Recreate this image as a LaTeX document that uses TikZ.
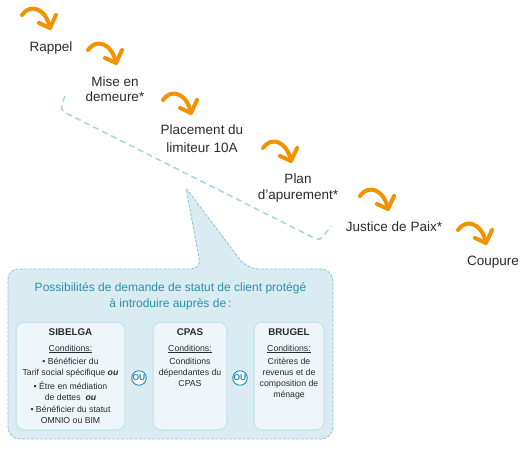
\documentclass[tikz,border=0pt]{standalone}
\usepackage{fontspec}
\setmainfont{Liberation Sans}
\definecolor{orng}{HTML}{F39200}
\definecolor{txt}{HTML}{2B2B2B}
\definecolor{teal1}{HTML}{2A93AA}
\definecolor{calfill}{HTML}{DAECF2}
\definecolor{calline}{HTML}{86C7D7}
\definecolor{bracec}{HTML}{A8D5E2}
\definecolor{boxfill}{HTML}{EEF6F9}
\definecolor{boxline}{HTML}{CCE4EC}
\definecolor{oucol}{HTML}{1F8BB8}
\begin{document}
\begin{tikzpicture}[x=1pt,y=-1pt,
  steplabel/.style={text=txt,font=\fontsize{13.5}{16}\selectfont,inner sep=0,anchor=base},
  titletxt/.style={text=teal1,font=\fontsize{12}{14}\selectfont,inner sep=0,anchor=base},
  boxhead/.style={text=txt,font=\fontsize{9.8}{12}\selectfont\bfseries,inner sep=0,anchor=base},
  boxtxt/.style={text=txt,font=\fontsize{8.7}{11}\selectfont,inner sep=0,anchor=base},
  ibox/.style={draw=boxline,fill=boxfill,line width=1.5,rounded corners=8,inner sep=0},
  oucirc/.style={circle,draw=oucol,fill=white,line width=0.9,minimum size=14.5,inner sep=0,
    text=oucol,font=\fontsize{8.5}{9}\selectfont\bfseries},
  orgline/.style={draw=orng,line width=4,line cap=round,line join=round},
  orgarrow/.pic={
    \draw[orgline] (0,0) .. controls (8,-12) and (24,-7) .. (28,13);
    \draw[orgline] (17,8) -- (28,13) -- (34,0);
  }
]
\useasboundingbox (0,0) rectangle (526,449);

% orange arrows
\pic at (22,15) {orgarrow};
\pic at (88,50) {orgarrow};
\pic at (163,100) {orgarrow};
\pic at (263,148) {orgarrow};
\pic at (360,196) {orgarrow};
\pic at (458,230) {orgarrow};

% step labels
\node[steplabel] (rappel) at (51,52) {Rappel};
\node[steplabel] (mise1) at (115,87) {Mise en};
\node[steplabel] (mise2) at (115,102) {demeure*};
\node[steplabel] (plac1) at (202,134.5) {Placement du};
\node[steplabel] (plac2) at (202,152) {limiteur 10A};
\node[steplabel] (plan1) at (298,183) {Plan};
\node[steplabel] (plan2) at (298,199) {d'apurement*};
\node[steplabel] (just) at (394,231) {Justice de Paix*};
\node[steplabel] (coup) at (493,265) {Coupure};

% brace
\draw[bracec,line width=1.5,dash pattern=on 6pt off 4pt,rounded corners=5]
  (65,96) -- (60,110) -- (320,241) -- (331,226);

% callout
\path[draw=calline,fill=calfill,line width=0.8,dash pattern=on 3pt off 1.5pt]
  [rounded corners=10] (8,350) -- (8,269) -- (201,269)
  [rounded corners=1.5] -- (186,188)
  [rounded corners=12] -- (247,269) -- (333,269) -- (333,439) -- (8,439) -- cycle;

\node[titletxt] (t1) at (170.5,291.5) {Possibilités de demande de statut de client protégé};
\node[titletxt] (t2) at (170.5,307.5) {à introduire auprès de\,:};

% inner boxes
\node[ibox,minimum width=109,minimum height=108] (sib) at (70.5,376) {};
\node[ibox,minimum width=74,minimum height=108] (cpas) at (190,376) {};
\node[ibox,minimum width=70,minimum height=108] (brug) at (289,376) {};

\node[boxhead] (sibh) at (70.5,335.5) {SIBELGA};
\node[boxhead] (cpash) at (190,335.5) {CPAS};
\node[boxhead] (brugh) at (289,335.5) {BRUGEL};
\node[boxtxt] (sibc) at (70.5,351) {\underline{Conditions:}};
\node[boxtxt] (cpasc) at (190,351) {\underline{Conditions:}};
\node[boxtxt] (brugc) at (289,351) {\underline{Conditions:}};

\foreach \t/\y [count=\i] in {{• Bénéficier du}/364,{Tarif social spécifique \textbf{\textit{ou}}}/375,
  {• Être en médiation}/389,{de dettes\ \ \textbf{\textit{ou}}}/400,{• Bénéficier du statut}/412,{OMNIO ou BIM}/423}
  {\node[boxtxt] (sibl\i) at (70.5,\y) {\t};}
\foreach \t/\y [count=\i] in {{Conditions}/364,{dépendantes du}/375,{CPAS}/386}
  {\node[boxtxt] (cpasl\i) at (190,\y) {\t};}
\foreach \t/\y [count=\i] in {{Critères de}/364,{revenus et de}/375,{composition de}/386,{ménage}/397}
  {\node[boxtxt] (brugl\i) at (289,\y) {\t};}

\node[oucirc] (ou1) at (139,378) {OU};
\node[oucirc] (ou2) at (240,378) {OU};
\end{tikzpicture}
\end{document}
